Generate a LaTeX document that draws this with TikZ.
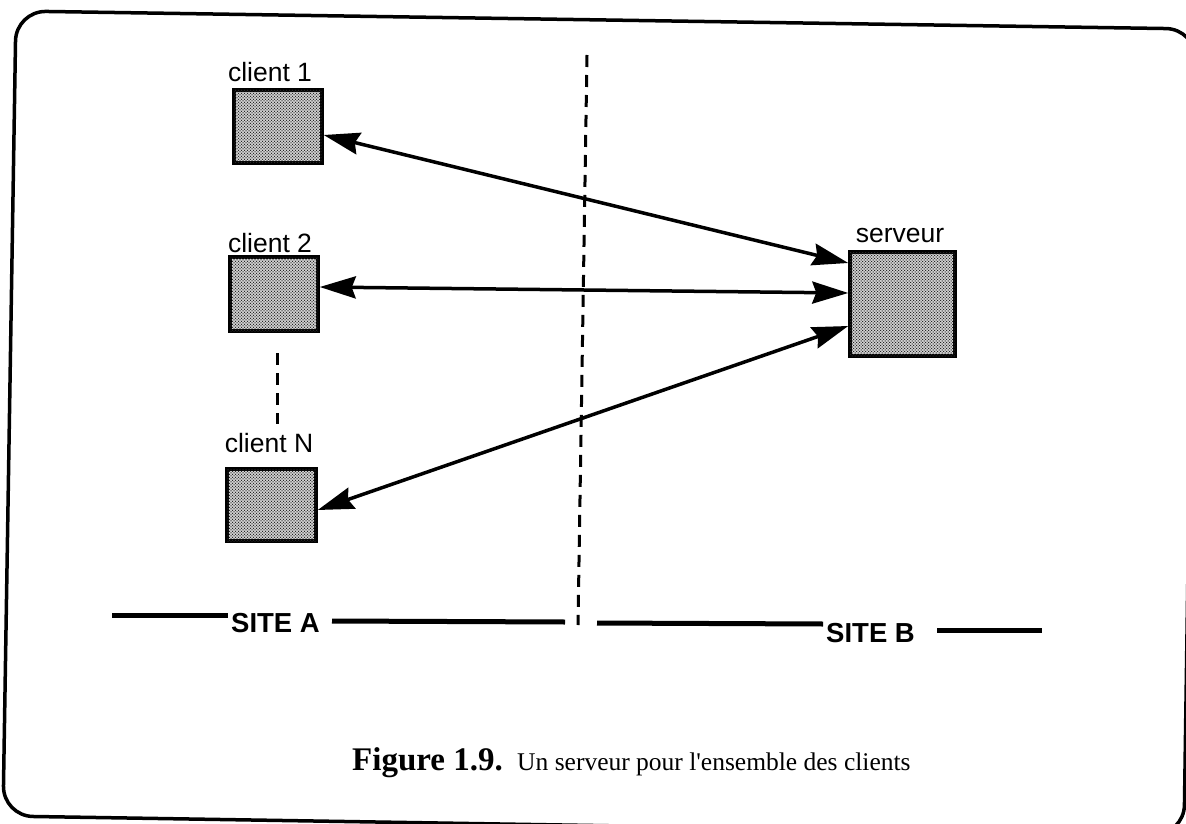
\documentclass[tikz,border=0pt]{standalone}
\usepackage{fontspec}
\setmainfont{Liberation Serif}
\newfontfamily\helv{Liberation Sans}
\usetikzlibrary{arrows.meta,calc,patterns}
\pgfdeclarepatternformonly{stipple}{\pgfpoint{-1pt}{-1pt}}{\pgfpoint{4pt}{4pt}}{\pgfpoint{3pt}{3pt}}{%
  \pgfpathcircle{\pgfpoint{0pt}{0pt}}{0.75pt}%
  \pgfpathcircle{\pgfpoint{1.5pt}{1.5pt}}{0.75pt}%
  \pgfusepath{fill}}
\begin{document}
\begin{tikzpicture}[x=1pt,y=-1pt,
  box/.style={draw=black, line width=3.5pt, fill=black!12, postaction={pattern=stipple, pattern color=black!85}, inner sep=0pt},
  lbl/.style={anchor=base, inner sep=0pt, font=\helv\fontsize{26.5}{30}\selectfont},
  sitelbl/.style={anchor=base west, inner sep=0pt, font=\helv\bfseries\fontsize{27.5}{30}\selectfont},
  tip/.tip={Stealth[length=36pt,width=22pt,inset=4pt]},
  arr/.style={tip-tip, line width=3.5pt},
  sepline/.style={line width=3pt, dash pattern=on 12pt off 8pt},
  siteline/.style={line width=5pt},
  frame/.style={line width=3.5pt, rounded corners=30pt}]
\useasboundingbox (0,0) rectangle (1186,824);
% frame
\draw[frame] (16,11) -- (1196,29) -- (1184,835) -- (3,816) -- cycle;
% boxes
\node[box, minimum width=88pt, minimum height=73pt] (c1) at (278,126.5) {};
\node[box, minimum width=88pt, minimum height=74pt] (c2) at (274,294) {};
\node[box, minimum width=89pt, minimum height=72pt] (cN) at (271.5,505) {};
\node[box, minimum width=105pt, minimum height=104pt] (srv) at (902.5,304) {};
% labels
\node[lbl] (l1) at (270,82) {client 1};
\node[lbl] (l2) at (270,252) {client 2};
\node[lbl] (lN) at (269,452) {client N};
\node[lbl] (ls) at (900,242) {serveur};
% arrows
\draw[arr] ([yshift=-8.5pt]c1.east) -- ([yshift=41pt]srv.west);
\draw[arr] ([yshift=7pt]c2.east) -- ([yshift=11pt]srv.west);
\draw[arr] ([yshift=-5pt]cN.east) -- ([yshift=-22pt]srv.west);
% separators
\coordinate (sepT) at (587,55);
\coordinate (sepB) at (578,625);
\draw[sepline] (sepT) -- (sepB);
\coordinate (dT) at (277,353);
\coordinate (dB) at (277,424);
\draw[sepline] (dT) -- (dB);
% site labels and lines
\node[sitelbl] (sA) at (231,632) {SITE A};
\node[sitelbl] (sB) at (826,642) {SITE B};
\coordinate (a1) at (112,615);
\coordinate (a2) at (228,615);
\coordinate (a3) at (332,621);
\coordinate (a4) at (565,622);
\coordinate (b1) at (597,623);
\coordinate (b2) at (823,624);
\coordinate (b3) at (937,630);
\coordinate (b4) at (1042,630);
\draw[siteline] (a1) -- (a2);
\draw[siteline] (a3) -- (a4);
\draw[siteline] (b1) -- (b2);
\draw[siteline] (b3) -- (b4);
% caption
\node[anchor=base west, inner sep=0pt] (capA) at (352,770)
  {\fontsize{33}{35}\selectfont\bfseries Figure 1.9.};
\node[anchor=base west, inner sep=0pt] (capB) at ([xshift=14pt]capA.base east)
  {\fontsize{25.5}{30}\selectfont Un serveur pour l\textquotesingle ensemble des clients};
\end{tikzpicture}
\end{document}
